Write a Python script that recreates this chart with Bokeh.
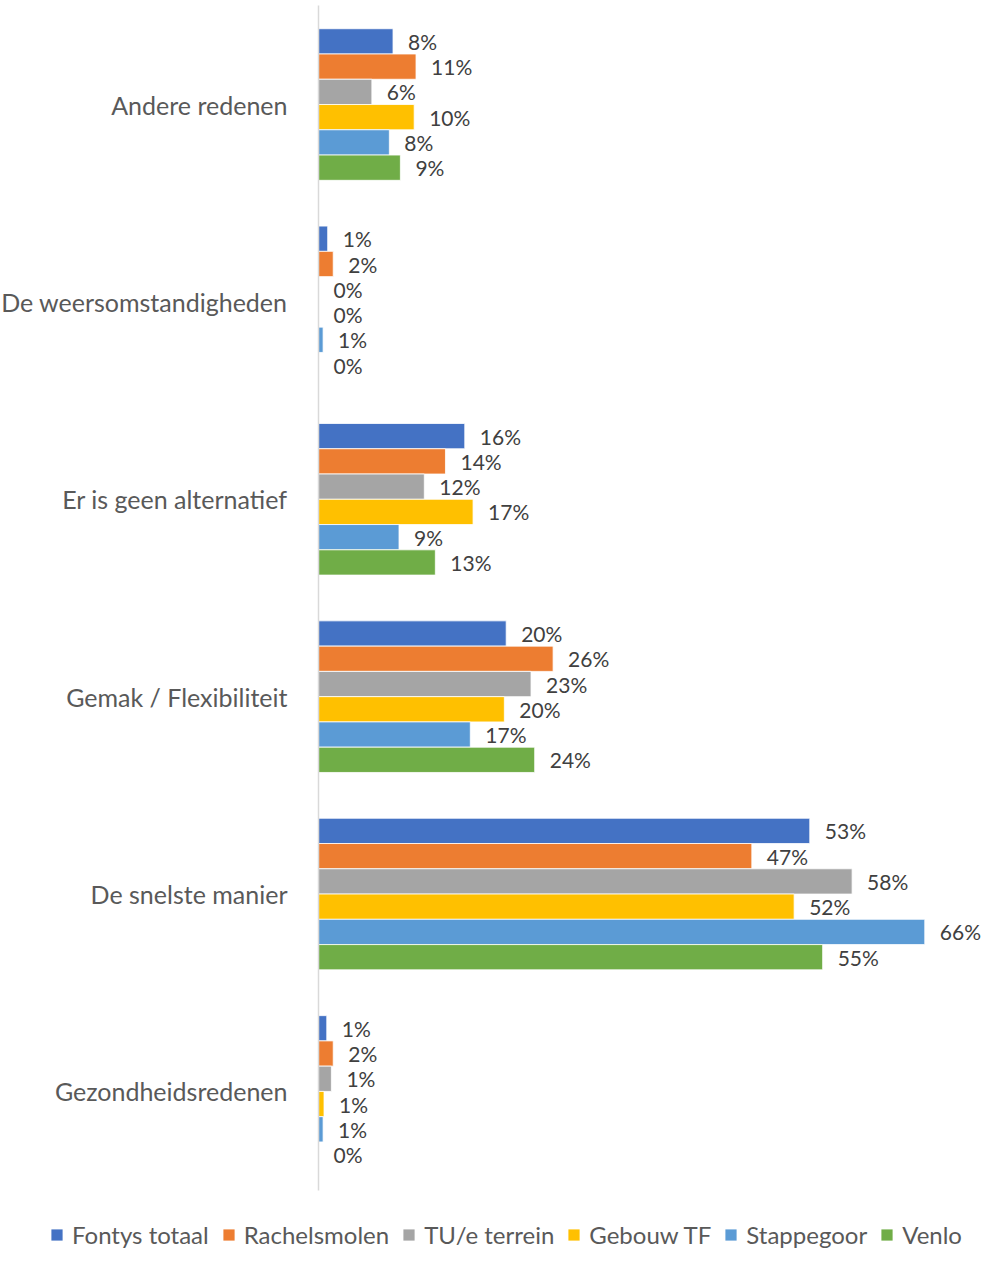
from bokeh.plotting import figure
from bokeh.models import ColumnDataSource, Range1d, Legend, FixedTicker
from bokeh.transform import dodge
from bokeh.core.properties import value
from bokeh.embed import file_html
from bokeh.resources import INLINE

categories = ["Andere redenen", "De weersomstandigheden", "Er is geen alternatief",
              "Gemak / Flexibiliteit", "De snelste manier", "Gezondheidsredenen"]
series_names = ["Fontys totaal", "Rachelsmolen", "TU/e terrein", "Gebouw TF", "Stappegoor", "Venlo"]
colors = ["#4472C4", "#ED7D31", "#A5A5A5", "#FFC000", "#5B9BD5", "#70AD47"]

fontys_totaal = [8.1, 1.0, 15.9, 20.4, 53.4, 0.9]
rachelsmolen = [10.6, 1.6, 13.8, 25.5, 47.1, 1.6]
tue_terrein = [5.8, 0.0, 11.5, 23.1, 58.0, 1.4]
gebouw_tf = [10.4, 0.0, 16.8, 20.2, 51.7, 0.6]
stappegoor = [7.7, 0.5, 8.75, 16.5, 65.9, 0.5]
venlo = [8.9, 0.0, 12.7, 23.5, 54.8, 0.0]

series_values = [fontys_totaal, rachelsmolen, tue_terrein, gebouw_tf, stappegoor, venlo]

FONT = "Lato"
W, H = 983, 1252
LEFT_PX = 318          # room for category labels left of the value axis
PX_PER_PCT = 9.2       # horizontal scale
n = len(categories)
cat_pos = [n - 1 - k for k in range(n)]   # first category on top

p = figure(width=W, height=H, output_backend="svg", toolbar_location=None,
           x_range=Range1d(-LEFT_PX / PX_PER_PCT, (W - LEFT_PX) / PX_PER_PCT),
           y_range=Range1d(-0.816, n - 1 + 0.527),
           x_axis_location=None,
           min_border_left=0, min_border_right=0, min_border_top=0, min_border_bottom=0)
p.outline_line_color = None
p.xgrid.visible = False
p.ygrid.visible = False

bar_h = 0.128
items = []
for i, (name, vals, col) in enumerate(zip(series_names, series_values, colors)):
    labels = [f"{int(v + 0.5)}%" for v in vals]
    src = ColumnDataSource(dict(pos=cat_pos, val=vals, lbl=labels))
    off = (2.5 - i) * bar_h
    r = p.hbar(y=dodge("pos", off), right="val", left=0, height=bar_h,
               source=src, fill_color=col, line_color="white", line_width=0.8)
    p.text(x="val", y=dodge("pos", off), text="lbl", source=src,
           x_offset=15, text_baseline="middle", text_align="left",
           text_font=value(FONT), text_font_size="21px", text_color="#404040")
    items.append((name, [r]))

yax = p.yaxis[0]
yax.fixed_location = 0
yax.bounds = (-0.5, n - 0.5)
yax.ticker = FixedTicker(ticks=cat_pos)
yax.major_label_overrides = {pos: cat for pos, cat in zip(cat_pos, categories)}
yax.axis_line_color = "#D9D9D9"
yax.axis_line_width = 1.5
yax.major_tick_line_color = None
yax.minor_tick_line_color = None
yax.major_label_text_font = FONT
yax.major_label_text_font_size = "25px"
yax.major_label_text_color = "#595959"
yax.major_label_standoff = 25

legend = Legend(items=items, orientation="horizontal", location=(49, 3),
                label_text_font=FONT, label_text_font_size="24px", label_text_color="#595959",
                glyph_width=15, glyph_height=15, label_standoff=8, spacing=12,
                border_line_color=None, background_fill_alpha=0,
                margin=0, padding=0)
p.add_layout(legend, "center")

open("out.html", "w").write(file_html(p, INLINE))
